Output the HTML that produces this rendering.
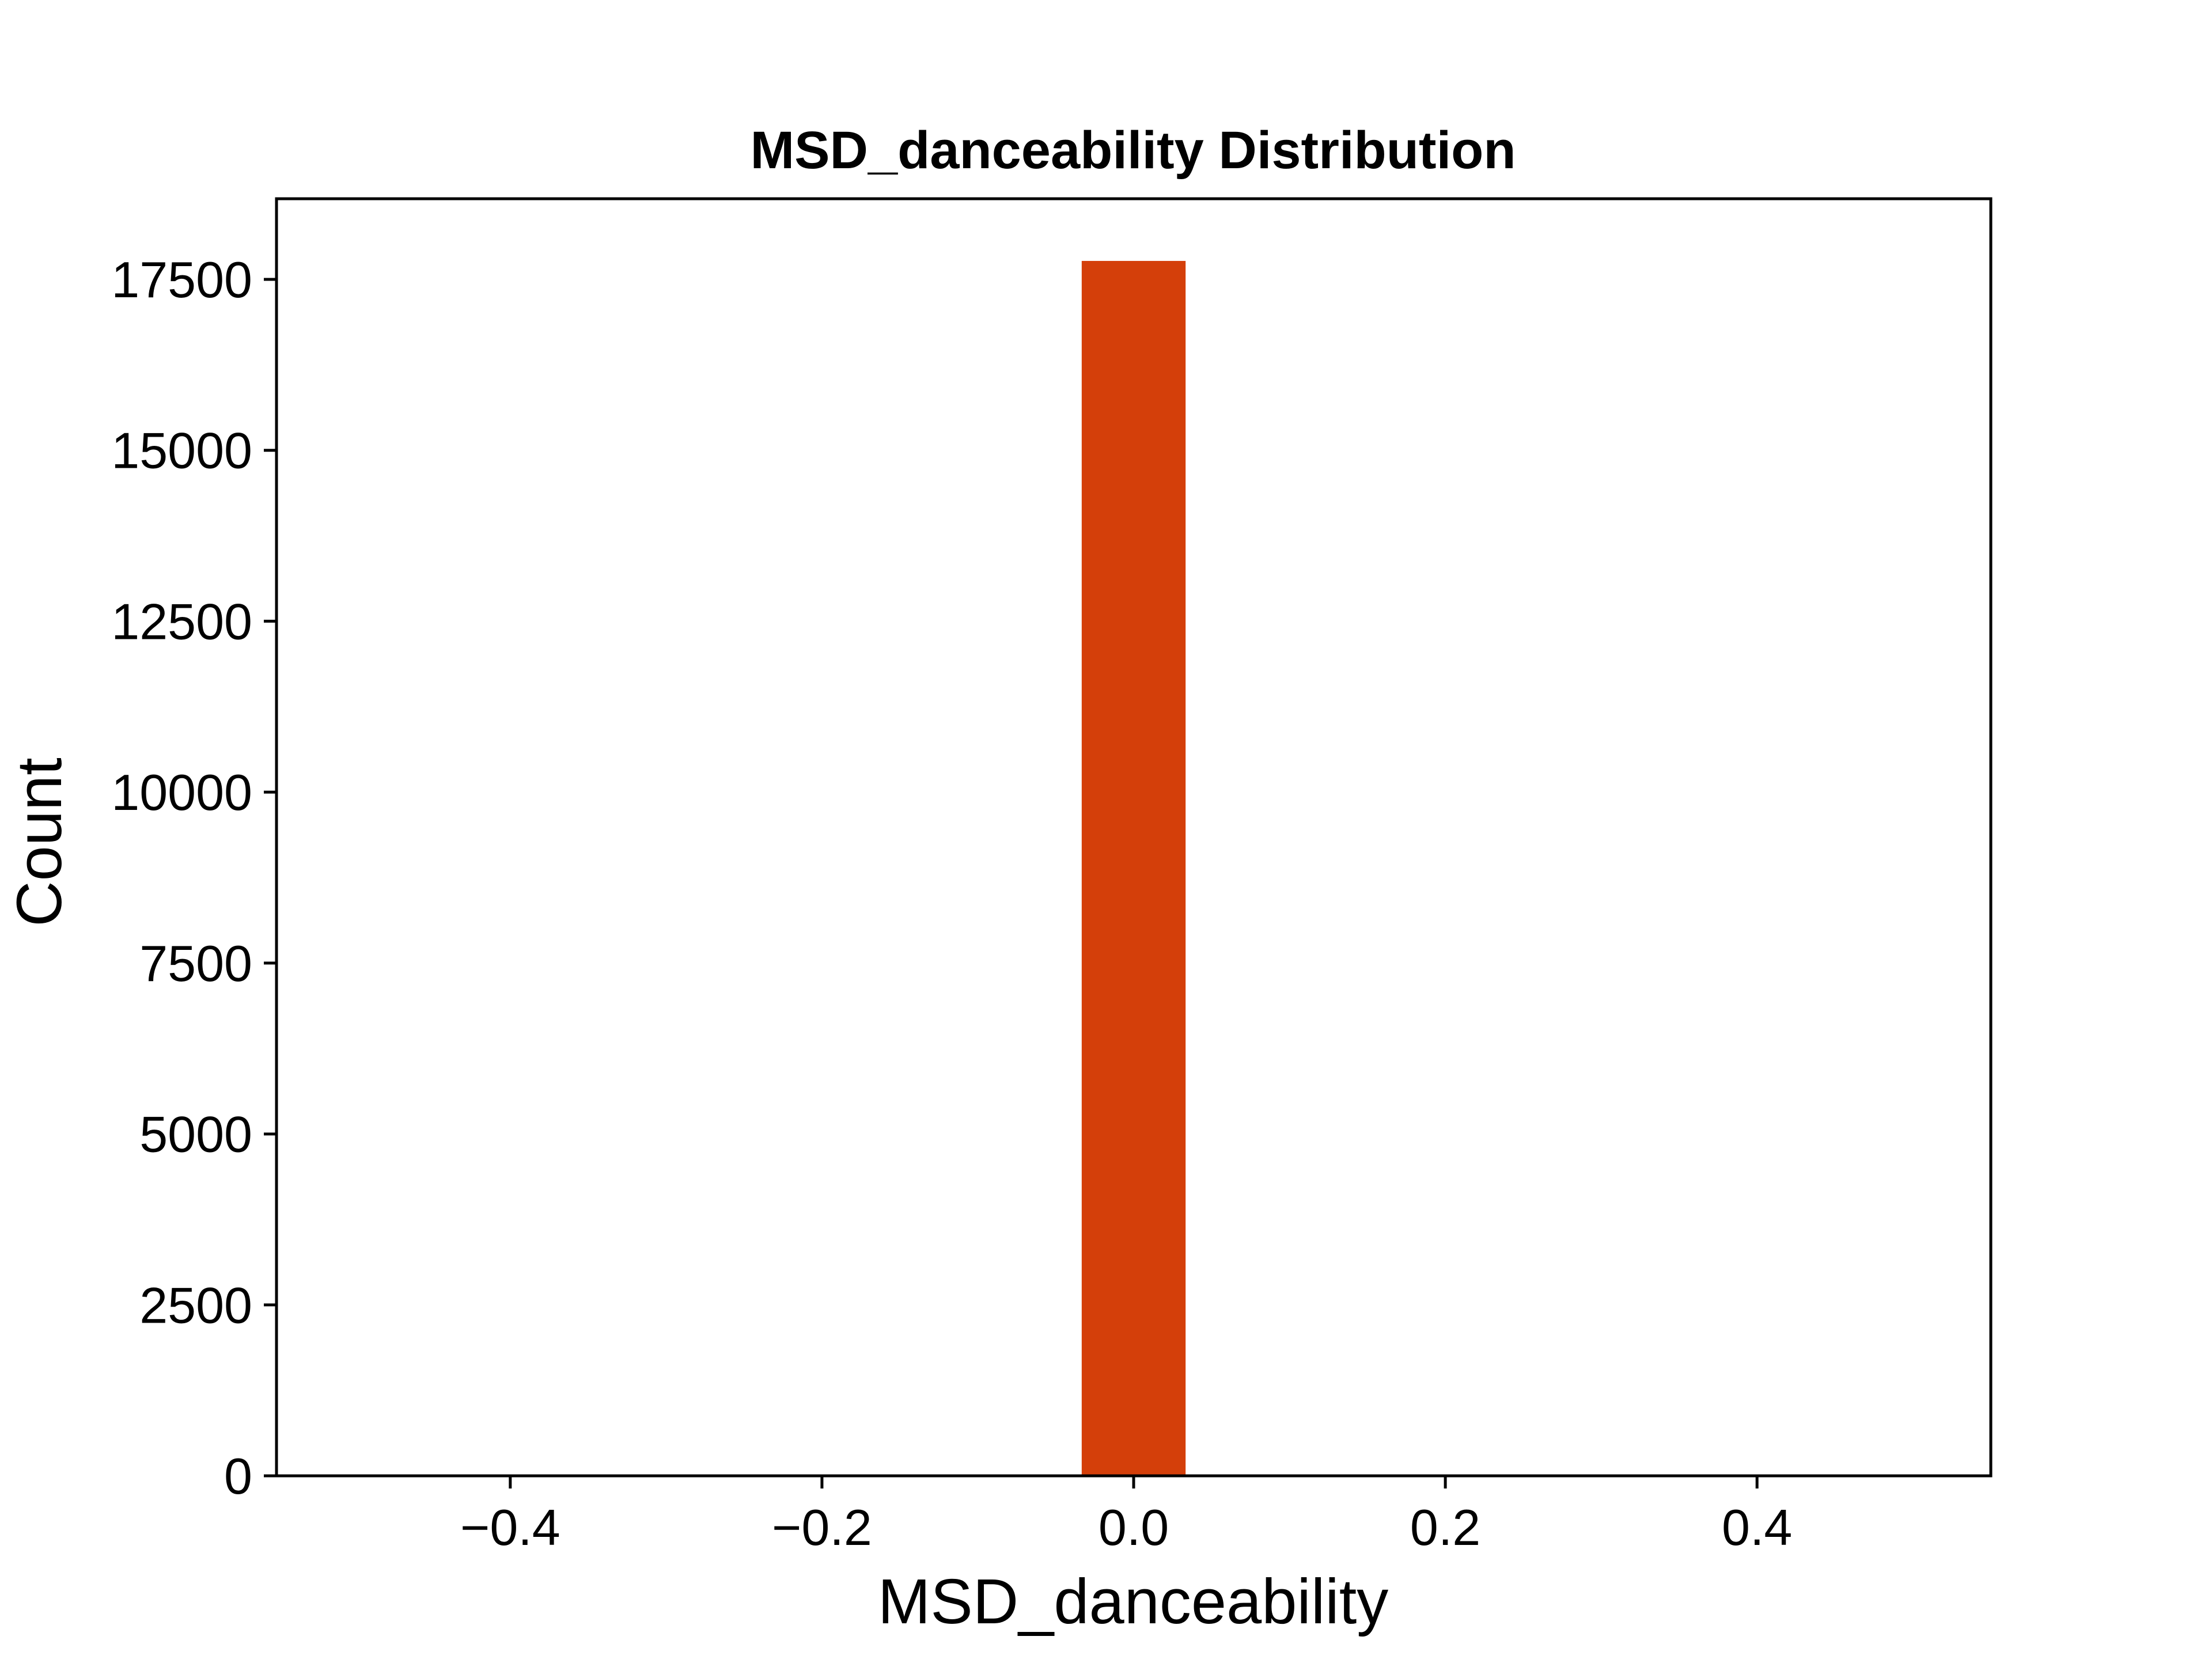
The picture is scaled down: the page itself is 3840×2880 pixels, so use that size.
<!DOCTYPE html>
<html><head><meta charset="utf-8"><style>html,body{margin:0;padding:0;background:#fff}svg{display:block}</style></head>
<body>
<svg width="3840" height="2880" viewBox="0 0 3840 2880" xmlns="http://www.w3.org/2000/svg" font-family="'Liberation Sans', sans-serif">
<rect width="3840" height="2880" fill="#fff"/>
<text x="1967" y="292" text-anchor="middle" font-size="92" font-weight="bold">MSD_danceability Distribution</text>
<g id="bars"></g>
<rect x="480" y="345" width="2976" height="2217" fill="none" stroke="#000" stroke-width="5"/>
<g id="yticks"></g>
<g id="xticks"></g>
<text x="1967" y="2818" text-anchor="middle" font-size="110">MSD_danceability</text>
<text transform="translate(106,1462) rotate(-90)" text-anchor="middle" font-size="110">Count</text>
</svg>
<script>
const binEdgesLeft = [-0.03333];
const binEdgesRight = [0.03333];
const counts = [17770];
const yTicks = [0, 2500, 5000, 7500, 10000, 12500, 15000, 17500];
const xTicks = [-0.4, -0.2, 0.0, 0.2, 0.4];
const xTickLabels = ["\u22120.4", "\u22120.2", "0.0", "0.2", "0.4"];

const L=480,R=3456,T=345,B=2562;
const xmin=-0.55,xmax=0.55;
const y0=2562, yPer=(2562-485)/17500;
function xs(v){return L+(v-xmin)/(xmax-xmin)*(R-L);}
function ys(v){return y0-v*yPer;}
const NS="http://www.w3.org/2000/svg";
const bars=document.getElementById('bars');
counts.forEach((c,i)=>{
  const r=document.createElementNS(NS,'rect');
  r.setAttribute('x',xs(binEdgesLeft[i]));
  r.setAttribute('y',ys(c));
  r.setAttribute('width',xs(binEdgesRight[i])-xs(binEdgesLeft[i]));
  r.setAttribute('height',ys(0)-ys(c));
  r.setAttribute('fill','#d43f0a');
  
  
  bars.appendChild(r);
});
const yg=document.getElementById('yticks');
yTicks.forEach(v=>{
  const y=ys(v);
  const l=document.createElementNS(NS,'line');
  l.setAttribute('x1',L-22);l.setAttribute('x2',L);l.setAttribute('y1',y);l.setAttribute('y2',y);
  l.setAttribute('stroke','#000');l.setAttribute('stroke-width','5');
  
  
  yg.appendChild(l);
  const t=document.createElementNS(NS,'text');
  t.setAttribute('x',L-42);t.setAttribute('y',y+31);t.setAttribute('text-anchor','end');t.setAttribute('font-size','88');
  t.textContent=String(v);
  
  
  yg.appendChild(t);
});
const xg=document.getElementById('xticks');
xTicks.forEach((v,i)=>{
  const x=xs(v);
  const l=document.createElementNS(NS,'line');
  l.setAttribute('x1',x);l.setAttribute('x2',x);l.setAttribute('y1',B);l.setAttribute('y2',B+22);
  l.setAttribute('stroke','#000');l.setAttribute('stroke-width','5');
  
  
  xg.appendChild(l);
  const t=document.createElementNS(NS,'text');
  t.setAttribute('x',x);t.setAttribute('y',B+120);t.setAttribute('text-anchor','middle');t.setAttribute('font-size','88');
  t.textContent=xTickLabels[i];
  
  
  xg.appendChild(t);
});
</script>
</body></html>
